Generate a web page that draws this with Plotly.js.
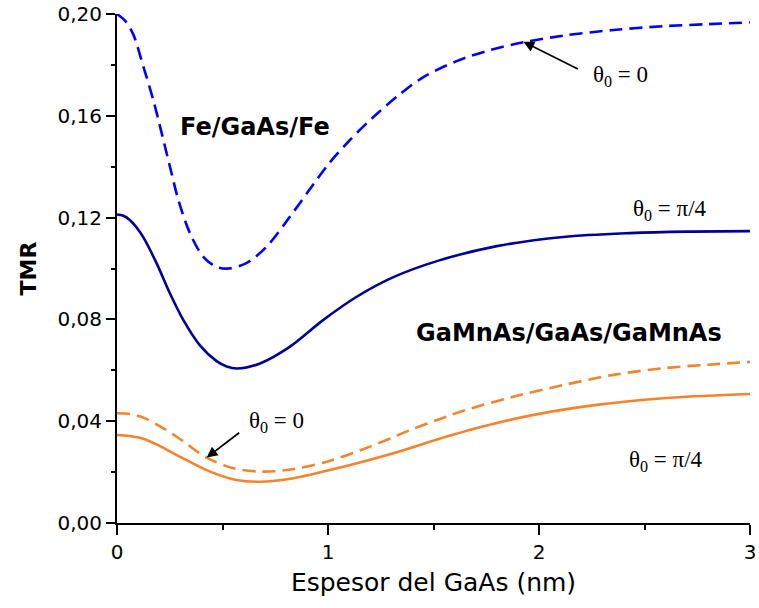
<!DOCTYPE html>
<html>
<head>
<meta charset="utf-8">
<script src="https://cdn.plot.ly/plotly-3.0.1.min.js"></script>
<style>
  html, body { margin: 0; padding: 0; background: #fff; }
  #chart { width: 759px; height: 608px; }
</style>
</head>
<body>
<div id="chart"></div>
<script>
// TMR versus GaAs barrier thickness (nm)

// Fe/GaAs/Fe, theta0 = 0 (dashed)
const feZeroX = [0.00, 0.04, 0.077, 0.125, 0.172, 0.212, 0.251, 0.291, 0.346, 0.409, 0.47, 0.53, 0.615, 0.709, 0.82, 0.93, 1.01, 1.104, 1.215, 1.326, 1.452, 1.61, 1.768, 1.926, 2.116, 2.352, 2.589, 2.80, 3.00];
const feZeroY = [0.200, 0.1972, 0.1920, 0.1793, 0.1662, 0.1531, 0.140, 0.1269, 0.1138, 0.1046, 0.1007, 0.1000, 0.1022, 0.1086, 0.1204, 0.1330, 0.1418, 0.1505, 0.1595, 0.1675, 0.1752, 0.1815, 0.1858, 0.1889, 0.1915, 0.1937, 0.1952, 0.1960, 0.1967];

// Fe/GaAs/Fe, theta0 = pi/4 (solid)
const fePiX = [0.00, 0.03, 0.062, 0.092, 0.125, 0.188, 0.251, 0.314, 0.393, 0.472, 0.52, 0.567, 0.678, 0.82, 0.978, 1.136, 1.31, 1.52, 1.80, 2.115, 2.43, 2.70, 3.00];
const fePiY = [0.1212, 0.1207, 0.1190, 0.1162, 0.1122, 0.1020, 0.0902, 0.0798, 0.0698, 0.0636, 0.0615, 0.0607, 0.0627, 0.0693, 0.0798, 0.0889, 0.0966, 0.1030, 0.1088, 0.1124, 0.1139, 0.1145, 0.1147];

// GaMnAs/GaAs/GaMnAs, theta0 = 0 (dashed)
const gmZeroX = [0.00, 0.06, 0.125, 0.204, 0.283, 0.425, 0.551, 0.678, 0.804, 0.994, 1.199, 1.389, 1.531, 1.641, 1.878, 2.115, 2.352, 2.589, 2.80, 3.00];
const gmZeroY = [0.0431, 0.0428, 0.0414, 0.0380, 0.0339, 0.0257, 0.0215, 0.0202, 0.0208, 0.0241, 0.0300, 0.0365, 0.0409, 0.0441, 0.0496, 0.0542, 0.0582, 0.0608, 0.0622, 0.0633];

// GaMnAs/GaAs/GaMnAs, theta0 = pi/4 (solid)
const gmPiX = [0.00, 0.06, 0.125, 0.204, 0.283, 0.441, 0.567, 0.678, 0.836, 1.073, 1.31, 1.51, 1.72, 1.957, 2.273, 2.589, 2.80, 3.00];
const gmPiY = [0.0346, 0.0342, 0.0331, 0.0302, 0.0267, 0.0202, 0.0169, 0.0162, 0.0176, 0.0221, 0.0274, 0.0326, 0.0376, 0.0422, 0.0464, 0.0490, 0.0500, 0.0507];

// Axis ticks
const xTickVals = [0, 1, 2, 3];
const xTickText = ['0', '1', '2', '3'];
const yTickVals = [0.00, 0.04, 0.08, 0.12, 0.16, 0.20];
const yTickText = ['0,00', '0,04', '0,08', '0,12', '0,16', '0,20'];

const BLUE = '#0000ff';
const NAVY = '#000099';
const ORANGE = '#f5832b';
const DASH = '13px,7px';

const traces = [
  { x: feZeroX, y: feZeroY, mode: 'lines', line: { color: BLUE, width: 2.6, dash: DASH, shape: 'spline', smoothing: 0.9 } },
  { x: fePiX, y: fePiY, mode: 'lines', line: { color: NAVY, width: 2.6, shape: 'spline', smoothing: 0.9 } },
  { x: gmZeroX, y: gmZeroY, mode: 'lines', line: { color: ORANGE, width: 2.6, dash: DASH, shape: 'spline', smoothing: 0.9 } },
  { x: gmPiX, y: gmPiY, mode: 'lines', line: { color: ORANGE, width: 2.6, shape: 'spline', smoothing: 0.9 } }
];

const SANS = 'DejaVu Sans, Verdana, sans-serif';
const tickFont = { family: SANS, size: 20, color: '#000' };
const serif = { family: 'Liberation Serif, Times New Roman, serif', size: 23, color: '#000' };
const boldSans = { family: SANS, size: 24, color: '#000', weight: 'bold' };

const layout = {
  width: 759,
  height: 608,
  margin: { l: 117, r: 9, t: 14, b: 85 },
  paper_bgcolor: '#fff',
  plot_bgcolor: '#fff',
  showlegend: false,
  xaxis: {
    range: [0, 3],
    tickvals: xTickVals,
    ticktext: xTickText,
    ticks: 'outside',
    ticklen: 10,
    tickwidth: 2,
    tickcolor: '#000',
    minor: { dtick: 0.5, ticks: 'outside', ticklen: 5, tickwidth: 2, tickcolor: '#000', showgrid: false },
    showline: true,
    linewidth: 2,
    linecolor: '#000',
    showgrid: false,
    zeroline: false,
    tickfont: tickFont,
    title: { text: 'Espesor del GaAs (nm)', font: { family: SANS, size: 25, color: '#000' }, standoff: 10 }
  },
  yaxis: {
    range: [0, 0.2],
    tickvals: yTickVals,
    ticktext: yTickText,
    ticks: 'outside',
    ticklen: 9,
    tickwidth: 2,
    tickcolor: '#000',
    minor: { dtick: 0.02, ticks: 'outside', ticklen: 4, tickwidth: 2, tickcolor: '#000', showgrid: false },
    showline: true,
    linewidth: 2,
    linecolor: '#000',
    showgrid: false,
    zeroline: false,
    tickfont: tickFont,
    title: { text: 'TMR', font: { family: SANS, size: 22, color: '#000', weight: 'bold' }, standoff: 15 }
  },
  // top and right frame with inward ticks
  xaxis2: {
    overlaying: 'x',
    side: 'top',
    anchor: 'y',
    range: [0, 3],
    tickvals: [0.5, 1, 1.5, 2, 2.5],
    ticks: 'inside',
    ticklen: 8,
    tickwidth: 2,
    tickcolor: '#000',
    showticklabels: false,
    showline: true,
    linewidth: 2,
    linecolor: '#000',
    showgrid: false,
    zeroline: false
  },
  yaxis2: {
    overlaying: 'y',
    side: 'right',
    anchor: 'x',
    range: [0, 0.2],
    tickvals: [0.02, 0.04, 0.06, 0.08, 0.10, 0.12, 0.14, 0.16, 0.18],
    ticks: 'inside',
    ticklen: 7,
    tickwidth: 2,
    tickcolor: '#000',
    showticklabels: false,
    showline: true,
    linewidth: 2,
    linecolor: '#000',
    showgrid: false,
    zeroline: false
  },
  annotations: [
    { xref: 'x', yref: 'y', x: 0.655, y: 0.1555, text: 'Fe/GaAs/Fe', showarrow: false, font: boldSans },
    { xref: 'x', yref: 'y', x: 2.14, y: 0.0745, text: 'GaMnAs/GaAs/GaMnAs', showarrow: false, font: boldSans },
    { xref: 'x', yref: 'y', x: 1.926, y: 0.1891, text: '', showarrow: true, arrowhead: 2, arrowsize: 1.2, arrowwidth: 1.8, arrowcolor: '#000', ax: 56, ay: 28 },
    { xref: 'x', yref: 'y', x: 2.385, y: 0.1755, text: 'θ<sub>0</sub> = 0', showarrow: false, font: serif },
    { xref: 'x', yref: 'y', x: 2.62, y: 0.1228, text: 'θ<sub>0</sub> = π/4', showarrow: false, font: serif },
    { xref: 'x', yref: 'y', x: 0.425, y: 0.0257, text: '', showarrow: true, arrowhead: 2, arrowsize: 1.2, arrowwidth: 1.8, arrowcolor: '#000', ax: 34, ay: -26 },
    { xref: 'x', yref: 'y', x: 0.755, y: 0.0395, text: 'θ<sub>0</sub> = 0', showarrow: false, font: serif },
    { xref: 'x', yref: 'y', x: 2.60, y: 0.0245, text: 'θ<sub>0</sub> = π/4', showarrow: false, font: serif }
  ]
};

Plotly.newPlot('chart', traces, layout, { displayModeBar: false, staticPlot: true });
</script>
</body>
</html>
